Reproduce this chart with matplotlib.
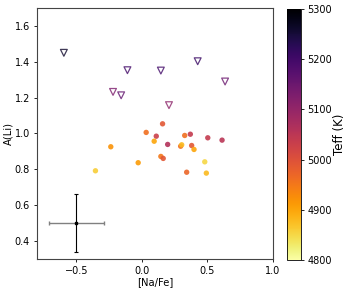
import numpy as np
import matplotlib
matplotlib.use("Agg")
import matplotlib.pyplot as plt

# Detections (circles)
det_na = [0.158, 0.033, 0.110, 0.094, 0.197, 0.327, 0.370, 0.503, 0.612, 0.296,
          0.304, 0.380, 0.398, -0.237, 0.145, 0.163, -0.028, -0.354, 0.480, 0.342, 0.492]
det_li = [1.054, 1.006, 0.985, 0.957, 0.939, 0.989, 0.996, 0.976, 0.963, 0.929,
          0.937, 0.933, 0.911, 0.926, 0.872, 0.861, 0.837, 0.792, 0.842, 0.784, 0.779]
det_teff = [4990, 4960, 5030, 4900, 5060, 4960, 5040, 5040, 5050, 4960,
            4880, 4990, 4900, 4920, 4950, 4990, 4910, 4860, 4850, 4970, 4880]

# Upper limits (open down-triangles)
lim_na = [-0.595, -0.110, 0.145, 0.426, 0.635, -0.220, -0.158, 0.207]
lim_li = [1.450, 1.353, 1.351, 1.403, 1.290, 1.232, 1.213, 1.158]
lim_teff = [5260, 5200, 5200, 5210, 5150, 5130, 5160, 5110]

# Typical error bar
err_x, err_y = [-0.5], [0.5]
err_dx, err_dy = [0.21], [0.16]

vmin, vmax = 4800, 5300
cmap = plt.get_cmap("inferno_r")
norm = matplotlib.colors.Normalize(vmin=vmin, vmax=vmax)

fig = plt.figure(figsize=(3.49, 2.91), dpi=100)
ax = fig.add_axes([0.106, 0.110, 0.676, 0.8625])
cax = fig.add_axes([0.822, 0.107, 0.040, 0.862])

sc = ax.scatter(det_na, det_li, c=det_teff, cmap=cmap, norm=norm, s=15,
                edgecolors="none", alpha=0.9, zorder=3)
ax.scatter(lim_na, lim_li, marker="v", facecolors="none",
           edgecolors=cmap(norm(np.array(lim_teff)), alpha=0.8), s=24, linewidths=0.9, zorder=3)

ax.errorbar(err_x, err_y, xerr=err_dx, fmt="none", ecolor="gray", elinewidth=1,
            capsize=1.5, capthick=1)
ax.errorbar(err_x, err_y, yerr=err_dy, fmt="s", color="black", ms=2, ecolor="black",
            elinewidth=0.8, capsize=1.5, capthick=0.8)

ax.set_xlim(-0.8, 1.0)
ax.set_ylim(0.3, 1.7)
ax.set_xticks([-0.5, 0.0, 0.5, 1.0])
ax.set_yticks([0.4, 0.6, 0.8, 1.0, 1.2, 1.4, 1.6])
ax.tick_params(labelsize=7, length=2.5, width=0.6, pad=2.5)
ax.set_xlabel("[Na/Fe]", fontsize=7.2, labelpad=1)
ax.set_ylabel("A(Li)", fontsize=7.2, labelpad=1)
for sp in ax.spines.values():
    sp.set_color("#444444")
    sp.set_linewidth(0.8)

cb = fig.colorbar(sc, cax=cax)
cb.set_ticks([4800, 4900, 5000, 5100, 5200, 5300])
cb.ax.tick_params(labelsize=7, length=2.5, width=0.6, pad=2)
cb.set_label("Teff (K)", fontsize=8.5, labelpad=1)
cb.outline.set_linewidth(0.6)
cb.solids.set_alpha(1)

fig.savefig("out.png", dpi=100)
